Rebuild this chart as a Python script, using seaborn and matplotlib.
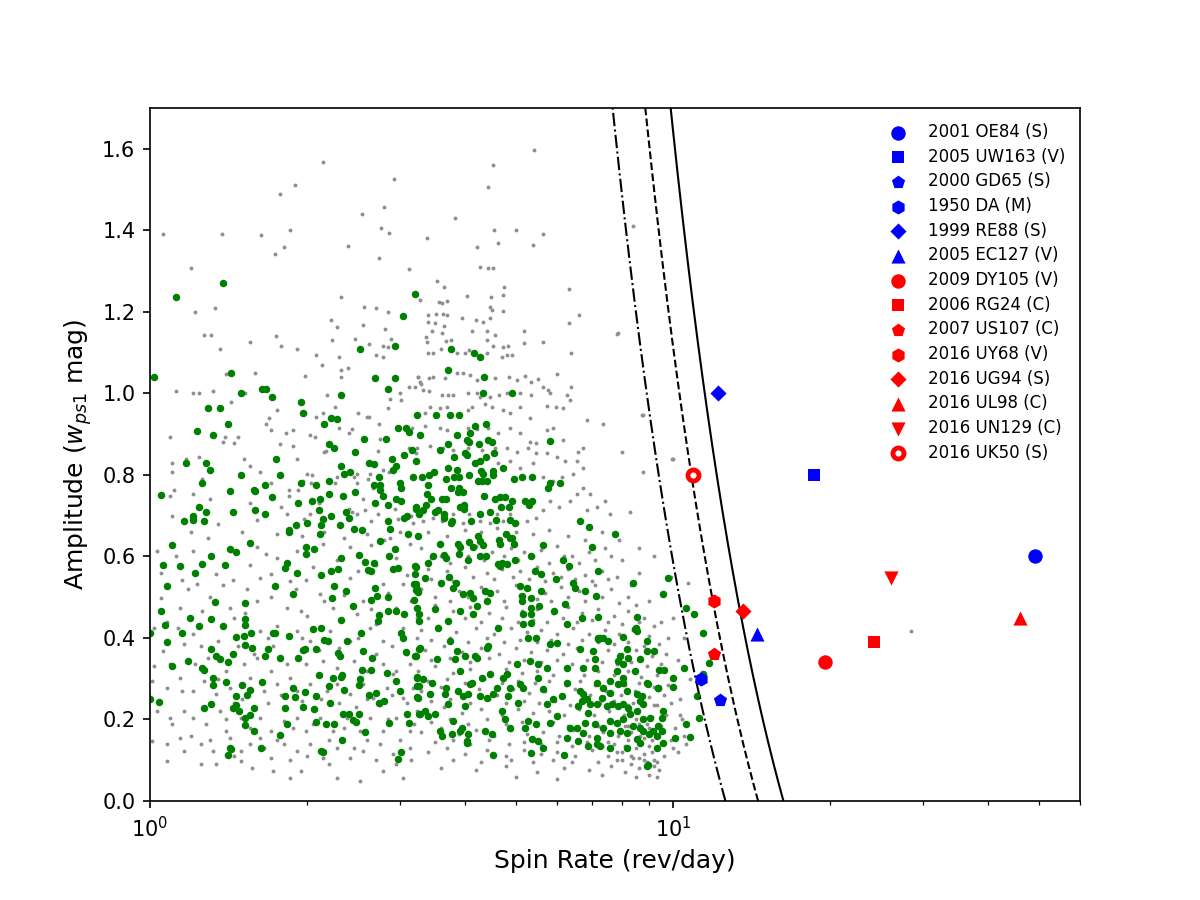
import matplotlib
matplotlib.use("Agg")
import matplotlib.pyplot as plt
import numpy as np
import pandas as pd
import seaborn as sns

# ---------------- named asteroids ----------------
named_labels = ["2001 OE84 (S)", "2005 UW163 (V)", "2000 GD65 (S)", "1950 DA (M)",
                "1999 RE88 (S)", "2005 EC127 (V)", "2009 DY105 (V)", "2006 RG24 (C)",
                "2007 US107 (C)", "2016 UY68 (V)", "2016 UG94 (S)", "2016 UL98 (C)",
                "2016 UN129 (C)", "2016 UK50 (S)"]
named_spin = [49.2, 18.6, 12.3, 11.3, 12.2, 14.5, 19.5, 24.2, 12.0, 12.0, 13.6, 46.1, 26.1, 10.9]
named_amp = [0.60, 0.80, 0.248, 0.30, 1.00, 0.41, 0.34, 0.39, 0.36, 0.49, 0.467, 0.45, 0.548, 0.80]

# spin-barrier densities (g/cm^3) for the three curves
barrier_density = [5, 4, 3]

# ---------------- green points (spin, amplitude) ----------------
green_a = [(1.38,1.27),(1.12,1.236),(1.02,1.04),(1.43,1.05),(1.49,1.00),(1.64,1.01),(1.67,1.01),(1.71,0.99),
(1.29,0.965),(1.36,0.965),(1.41,0.925),(1.23,0.907),(1.32,0.897),(1.94,0.98),(1.96,0.953),(2.15,0.926),
(2.22,0.94),(2.28,0.938),(2.32,0.995),(2.52,1.108),(2.94,1.115),(3.05,1.19),(3.21,1.243),(2.69,1.037),
(2.94,1.037),(2.85,1.01),(2.83,0.887),(2.57,0.887),(2.98,0.914),(3.08,0.914),(3.13,0.904),(3.24,0.948),
(2.20,0.875),(2.25,0.867),(2.47,0.855),(1.74,0.84),(1.17,0.83),(1.28,0.83),(1.30,0.813),(1.26,0.779),
(1.49,0.80),(1.77,0.80),(1.05,0.75),(1.42,0.76),(1.58,0.764),(1.59,0.76),(1.66,0.776),(1.71,0.745),
(1.24,0.722),(1.21,0.70),(1.21,0.69),(1.16,0.688),(1.28,0.708),(1.27,0.686),(1.44,0.708),(1.59,0.713),
(1.66,0.705),(1.94,0.779),(2.08,0.774),(2.20,0.786),(2.32,0.823),(2.35,0.803),(2.41,0.808),(2.62,0.83),
(2.68,0.826),(2.90,0.838),(2.95,0.823),(2.92,0.813),(3.06,0.85),(3.17,0.86),(3.23,0.835),(2.74,0.796),
(2.68,0.774),(2.75,0.776),(2.75,0.764),(2.79,0.749),(2.85,0.725),(3.01,0.781),(3.02,0.767),(3.18,0.796),
(2.95,0.74),(3.02,0.737),(3.23,0.717),(2.20,0.752),(2.11,0.74),(2.04,0.735),(1.92,0.732),(2.34,0.749),
(2.47,0.757),(2.69,0.73),(2.10,0.713),(2.22,0.70),(2.14,0.693),(2.37,0.71),(2.40,0.695),(2.00,0.683),
(1.90,0.678),(1.84,0.666),(2.85,0.686),(2.88,0.668),(3.06,0.695),(3.10,0.70),(3.27,0.703),(2.12,0.676),
(2.31,0.676),(2.46,0.668),(2.54,0.666)]
green_b = [(3.76,1.108),(4.16,1.098),(4.27,1.088),(3.72,1.057),(4.35,1.04),(4.33,1.002),(4.92,1.0),
(3.52,0.948),(3.74,0.948),(3.90,0.948),(4.18,0.919),(4.39,0.924),(3.28,0.899),(3.86,0.899),(4.09,0.902),
(4.04,0.885),(4.07,0.88),(4.25,0.875),(4.43,0.885),(4.50,0.88),(3.72,0.875),(3.58,0.862),(5.81,0.882),
(3.81,0.843),(4.00,0.853),(4.04,0.848),(4.18,0.83),(4.27,0.835),(4.39,0.845),(4.54,0.853),(3.72,0.816),
(3.86,0.813),(3.90,0.796),(3.81,0.794),(3.41,0.80),(3.49,0.806),(3.31,0.794),(3.40,0.776),(3.68,0.79),
(4.07,0.80),(4.29,0.81),(4.33,0.803),(4.52,0.81),(4.52,0.799),(4.23,0.784),(4.31,0.784),(4.41,0.786),
(4.73,0.818),(4.97,0.789),(5.14,0.794),(5.38,0.794),(5.81,0.781),(5.76,0.769),(6.09,0.781),(3.76,0.767),
(3.90,0.769),(3.88,0.757),(3.96,0.757),(3.39,0.752),(3.45,0.74),(3.61,0.74),(3.68,0.74),(4.35,0.749),
(4.56,0.74),(4.66,0.745),(4.77,0.745),(4.92,0.737),(4.86,0.72),(4.69,0.72),(5.21,0.735),(5.30,0.727),
(5.38,0.737),(3.23,0.72),(3.32,0.715),(3.37,0.727),(3.50,0.71),(3.55,0.715),(3.65,0.703),(3.65,0.695),
(3.78,0.688),(3.76,0.681),(3.92,0.72),(3.98,0.725),(3.98,0.717),(4.11,0.688),(4.27,0.705),(4.46,0.71),
(4.58,0.69),(4.88,0.69),(4.99,0.681),(6.64,0.688),(6.92,0.671)]
green_c = [(1.10,0.627),(1.06,0.58),(1.14,0.577),(1.08,0.528),(1.22,0.56),(1.26,0.582),(1.31,0.60),
(1.39,0.58),(1.42,0.617),(1.46,0.612),(1.55,0.634),(1.33,0.489),(1.05,0.467),(1.07,0.432),(1.08,0.391),
(1.10,0.332),(1.0,0.413),(1.0,0.25),(1.04,0.243),(1.19,0.45),(1.24,0.43),(1.15,0.413),(1.31,0.447),
(1.38,0.43),(1.18,0.344),(1.26,0.327),(1.27,0.322),(1.31,0.373),(1.34,0.356),(1.36,0.349),(1.41,0.342),
(1.44,0.361),(1.32,0.302),(1.32,0.285),(1.31,0.238),(1.27,0.228),(1.40,0.292),(1.46,0.258),(1.44,0.228),
(1.46,0.236),(1.48,0.221),(1.52,0.204),(1.52,0.187),(1.50,0.285),(1.53,0.26),(1.55,0.273),(1.58,0.228),
(1.55,0.211),(1.58,0.172),(1.42,0.13),(1.43,0.128),(1.41,0.113),(1.52,0.486),(1.52,0.447),(1.52,0.432),
(1.52,0.383),(1.46,0.403),(1.51,0.405),(1.56,0.413),(1.57,0.376),(1.64,0.292),(1.63,0.13),(1.66,0.356),
(1.68,0.373),(1.72,0.413),(1.73,0.413),(1.73,0.528),(1.77,0.351),(1.84,0.405),(1.92,0.351),(1.88,0.509),
(1.81,0.572),(1.83,0.585),(1.91,0.56),(1.77,0.162),(1.83,0.189),(1.81,0.228),(1.81,0.258),(1.89,0.255),
(1.88,0.278),(1.96,0.231),(1.98,0.268),(2.06,0.226),(2.08,0.258),(2.08,0.194),(2.12,0.123),(2.14,0.12),
(1.96,0.371),(1.98,0.373),(2.05,0.423),(2.08,0.373),(2.12,0.425),(2.15,0.396),(2.19,0.393),(2.10,0.31),
(2.21,0.241),(2.24,0.302),(2.20,0.283),(2.33,0.31),(2.32,0.305),(2.35,0.273),(2.34,0.214),(2.17,0.189),
(2.25,0.189),(2.33,0.15),(2.12,0.555),(2.22,0.565),(2.29,0.57),(2.32,0.595),(2.23,0.499),(2.25,0.528),
(2.37,0.516),(2.44,0.479),(2.11,0.656),(1.99,0.622),(2.06,0.619),(1.99,0.607),(1.84,0.661),(2.32,0.445),
(2.38,0.393),(2.29,0.364),(2.31,0.356),(2.40,0.214),(2.44,0.199),(2.48,0.194),(2.51,0.214),(2.54,0.322),
(2.52,0.30),(2.51,0.285),(2.58,0.17),(2.53,0.413),(2.55,0.369),(2.66,0.351),(2.65,0.322),(2.62,0.26),
(2.70,0.265),(2.74,0.241),(2.80,0.246),(2.86,0.191),(3.02,0.12),(2.98,0.103),(3.13,0.191),(3.10,0.214),
(2.51,0.604),(2.58,0.587),(2.61,0.567),(2.65,0.565),(2.68,0.585),(2.75,0.639),(2.86,0.602),(2.94,0.619),
(2.91,0.57),(2.98,0.572),(3.11,0.654),(3.23,0.575),(3.23,0.533),(3.26,0.513),(3.23,0.518),(2.69,0.523),
(2.72,0.504),(2.65,0.494),(2.74,0.457),(2.73,0.442),(2.85,0.467),(2.95,0.467),(3.06,0.459),(2.85,0.501),
(3.02,0.413),(3.05,0.401),(3.09,0.366),(3.23,0.356),(3.27,0.373),(2.84,0.314),(2.95,0.295),(3.00,0.27),
(3.24,0.305),(3.27,0.283),(3.24,0.255),(3.27,0.214)]
green_d = [(3.25,0.649),(3.59,0.631),(3.88,0.631),(3.92,0.622),(4.07,0.636),(4.15,0.622),(4.27,0.639),
(4.33,0.629),(4.23,0.651),(4.65,0.641),(4.66,0.631),(4.79,0.656),(4.92,0.644),(4.97,0.631),(4.88,0.646),
(5.63,0.629),(7.00,0.624),(7.76,0.654),(3.40,0.585),(3.47,0.60),(3.65,0.604),(3.68,0.597),(3.90,0.607),
(4.05,0.59),(4.27,0.602),(4.39,0.602),(4.62,0.582),(4.70,0.585),(4.81,0.582),(4.99,0.592),(5.36,0.602),
(5.44,0.565),(5.58,0.558),(6.17,0.592),(6.33,0.577),(7.19,0.563),(3.21,0.577),(3.21,0.558),(3.20,0.533),
(3.24,0.521),(3.20,0.494),(3.24,0.474),(3.27,0.459),(3.27,0.442),(3.36,0.548),(3.60,0.536),(3.73,0.55),
(3.84,0.536),(3.79,0.523),(3.96,0.509),(4.09,0.511),(4.15,0.499),(4.37,0.516),(4.47,0.511),(4.41,0.491),
(4.66,0.577),(5.10,0.528),(5.25,0.523),(5.14,0.504),(5.14,0.491),(5.36,0.499),(5.34,0.474),(5.36,0.459),
(5.54,0.479),(5.60,0.516),(5.17,0.435),(5.34,0.437),(5.97,0.545),(6.43,0.536),(6.78,0.516),(7.12,0.504),
(6.27,0.435),(6.22,0.484),(5.92,0.467),(6.70,0.45),(7.19,0.452),(6.49,0.523),(8.39,0.536),(8.55,0.452),
(8.50,0.425),(8.55,0.418),(8.04,0.403),(7.35,0.40),(7.19,0.40),(9.57,0.509),(9.78,0.548),(10.58,0.474),
(10.96,0.459),(10.5,0.327),(11.1,0.258),(11.2,0.204),(10.58,0.189),(10.8,0.157),(9.99,0.302),(9.99,0.28),
(9.36,0.278),(9.6,0.322),(10.1,0.155),(8.94,0.088),(11.4,0.413),(11.7,0.339),(11.4,0.312)]
green_e = [(3.21,0.356),(3.28,0.376),(3.24,0.302),(3.32,0.30),(3.24,0.283),(3.25,0.253),(3.36,0.221),
(3.28,0.214),(3.40,0.209),(3.43,0.263),(3.46,0.29),(3.54,0.349),(3.51,0.214),(3.59,0.172),(3.62,0.16),
(3.72,0.238),(3.80,0.197),(3.67,0.263),(3.68,0.278),(3.74,0.393),(3.86,0.369),(3.83,0.349),(4.00,0.356),
(3.92,0.319),(3.88,0.27),(3.96,0.258),(4.00,0.233),(4.05,0.263),(4.09,0.287),(4.13,0.29),(4.05,0.165),
(3.95,0.179),(3.92,0.172),(3.78,0.165),(4.04,0.147),(4.27,0.258),(4.31,0.302),(4.41,0.253),(4.47,0.312),
(4.52,0.263),(4.37,0.172),(4.50,0.165),(4.60,0.278),(4.73,0.302),(4.70,0.221),(4.88,0.278),(4.84,0.258),
(4.77,0.201),(4.88,0.179),(5.03,0.337),(5.10,0.287),(5.06,0.241),(5.17,0.278),(3.51,0.472),(3.55,0.425),
(3.72,0.442),(3.92,0.467),(4.15,0.459),(4.22,0.479),(4.41,0.376),(4.43,0.381),(4.62,0.425),(4.22,0.351),
(4.18,0.356),(4.81,0.312),(5.17,0.459),(5.28,0.40),(5.48,0.40),(5.32,0.344),(5.51,0.337),(5.74,0.327),
(5.81,0.386),(5.99,0.388),(6.27,0.327),(6.64,0.373),(7.03,0.369),(7.19,0.398),(7.09,0.349),(6.74,0.327),
(5.51,0.302),(5.63,0.275),(5.74,0.238),(5.89,0.25),(6.13,0.258),(6.27,0.29),(5.99,0.209),(5.81,0.191),
(5.48,0.189),(5.38,0.152),(5.51,0.147),(5.63,0.13),(5.36,0.118),(5.21,0.179),(5.28,0.197),(6.18,0.113),
(4.52,0.113),(4.04,0.143)]
green_f = [(6.64,0.27),(6.74,0.263),(6.70,0.246),(6.85,0.25),(6.93,0.238),(6.58,0.233),(6.88,0.216),
(7.16,0.238),(7.32,0.253),(7.49,0.233),(7.65,0.238),(7.86,0.233),(8.03,0.238),(8.21,0.228),(8.28,0.214),
(8.03,0.201),(7.82,0.191),(7.59,0.197),(7.35,0.179),(7.09,0.189),(6.78,0.191),(6.55,0.179),(6.74,0.167),
(7.16,0.155),(7.24,0.135),(6.88,0.135),(7.59,0.167),(7.92,0.172),(8.17,0.167),(8.39,0.184),(8.66,0.179),
(8.78,0.172),(8.98,0.165),(9.17,0.172),(9.32,0.16),(9.52,0.172),(9.57,0.143),(9.32,0.13),(8.55,0.152),
(8.66,0.143),(8.17,0.13),(8.90,0.086),(8.78,0.201),(9.05,0.204),(9.36,0.184),(9.52,0.204),(9.57,0.221),
(8.66,0.246),(8.78,0.238),(8.55,0.221),(8.17,0.27),(7.86,0.287),(7.59,0.265),(7.35,0.278),(7.16,0.29),
(7.09,0.327),(7.59,0.295),(7.82,0.319),(8.03,0.337),(8.21,0.351),(8.47,0.319),(8.03,0.302),(8.90,0.29),
(8.94,0.287),(9.36,0.278),(8.66,0.349),(8.90,0.393),(9.20,0.369),(8.90,0.369),(8.17,0.373),(7.92,0.356),
(7.52,0.393),(7.24,0.40),(7.86,0.344),(9.40,0.322),(8.74,0.258),(8.47,0.423),(8.03,0.29),(8.55,0.263),
(7.59,0.13),(7.16,0.14),(6.58,0.147),(6.27,0.155),(6.36,0.179)]

# ---------------- grey points (spin, amplitude) ----------------
grey_a = [(5.42,1.597),(4.53,1.56),(4.43,1.506),(3.83,1.43),(3.39,1.38),(4.55,1.40),(5.01,1.40),(5.63,1.39),
(4.62,1.37),(4.22,1.36),(5.40,1.364),(4.27,1.31),(4.43,1.307),(4.52,1.307),(2.14,1.568),(2.93,1.526),
(1.77,1.49),(1.89,1.51),(1.06,1.39),(1.37,1.39),(1.63,1.388),(1.85,1.40),(1.73,1.342),(1.80,1.359),
(2.39,1.361),(2.54,1.44),(2.80,1.457),(2.76,1.405),(2.86,1.393),(2.74,1.332),(1.20,1.307),(3.13,1.305),
(8.4,1.41),(7.8,1.145),(8.73,0.948),(9.95,0.84),(10.7,0.536),(28.5,0.418)]
grey_b = [(1.22,1.20),(1.33,1.21),(1.27,1.143),(1.31,1.143),(1.36,1.11),(1.55,1.125),(1.74,1.14),(1.78,1.115),
(1.91,1.108),(2.08,1.093),(2.13,1.069),(2.23,1.13),(2.28,1.162),(2.22,1.179),(2.32,1.236),(2.47,1.133),
(2.55,1.167),(2.57,1.211),(2.71,1.209),(2.85,1.199),(2.81,1.157),(2.62,1.12),(2.79,1.115),(2.30,1.09),
(2.32,1.057),(2.32,1.04),(2.39,1.061),(1.98,1.042),(1.59,1.049),(1.12,1.005),(1.21,1.002),(1.24,1.0),
(1.32,1.005),(1.43,0.978),(1.40,1.047),(1.52,1.0),(1.09,0.894),(1.10,0.83),(1.10,0.808),(1.11,0.762),
(1.09,0.747),(1.21,0.754),(1.24,0.845),(1.26,0.791),(1.17,0.84),(1.38,0.88),(1.45,0.877),(1.39,0.894),
(1.47,0.892),(1.51,0.838),(1.62,0.808),(1.55,0.823),(1.69,0.939),(1.67,0.924),(1.70,0.909),(1.75,0.958),
(1.82,0.902),(1.88,0.909),(1.77,0.875),(1.88,0.872),(1.91,0.84),(1.98,0.951),(2.02,0.899),(2.07,0.894),
(2.14,0.951),(2.08,0.941),(2.18,0.995),(2.26,0.966),(2.40,0.902),(2.43,0.912),(2.30,0.916),(2.17,0.858),
(2.15,0.855),(2.50,0.953),(2.60,0.943),(2.62,0.943),(2.74,0.926),(2.75,0.887),(2.73,0.858),(2.85,0.963),
(2.88,0.985),(3.00,1.0),(3.02,0.983),(3.13,1.015),(3.25,1.039),(3.30,1.022),(2.71,1.093),(2.79,1.088),
(2.89,1.133),(2.85,1.113),(3.28,1.228),(3.13,0.867),(3.23,0.853),(2.45,0.794),(2.49,0.803),(2.49,0.781),
(2.63,0.803),(2.61,0.791),(2.67,0.769),(2.79,0.811),(2.87,0.808),(2.26,0.779),(2.28,0.794),(2.00,0.803),
(2.04,0.799),(1.96,0.786),(2.03,0.781),(1.84,0.762),(1.92,0.762),(1.84,0.749),(1.78,0.72),(1.83,0.705),
(1.97,0.693),(2.02,0.705),(2.40,0.717),(2.43,0.708),(2.49,0.705),(2.58,0.713),(2.64,0.688),(2.73,0.705),
(2.94,0.717),(2.98,0.693)]
grey_c = [(3.54,1.275),(3.65,1.26),(4.04,1.238),(4.48,1.236),(4.73,1.241),(4.75,1.26),(6.33,1.255),
(3.57,1.224),(3.70,1.226),(3.61,1.221),(4.47,1.211),(4.50,1.204),(4.73,1.201),(3.40,1.192),(3.52,1.194),
(3.64,1.194),(3.70,1.192),(3.40,1.174),(3.51,1.172),(3.65,1.165),(3.95,1.184),(4.13,1.152),(4.20,1.179),
(4.33,1.174),(4.41,1.152),(4.47,1.184),(3.37,1.138),(3.39,1.125),(3.46,1.152),(3.62,1.147),(3.68,1.128),
(3.76,1.13),(4.41,1.13),(4.56,1.143),(4.52,1.115),(4.73,1.113),(4.84,1.115),(5.19,1.152),(5.19,1.123),
(5.63,1.125),(6.38,1.10),(6.33,1.172),(6.61,1.192),(7.86,1.147),(3.40,1.098),(3.47,1.098),(3.60,1.108),
(3.86,1.098),(4.00,1.10),(4.07,1.106),(4.41,1.10),(4.70,1.088),(4.81,1.093),(4.92,1.093),(3.25,1.039),
(3.28,1.027),(3.41,1.037),(3.47,1.039),(3.67,1.037),(3.86,1.049),(3.96,1.049),(4.09,1.044),(4.22,1.032),
(4.56,1.037),(4.86,1.039),(5.03,1.032),(5.21,1.042),(5.36,1.027),(5.52,1.035),(5.99,1.047),(3.21,1.015),
(3.32,1.007),(3.41,1.005),(3.61,0.995),(3.72,0.995),(3.80,0.995),(4.05,1.002),(4.22,1.002),(4.27,0.99),
(4.47,0.99),(4.64,0.995),(4.81,1.002),(5.10,1.0),(5.36,0.995),(5.63,1.015),(5.76,1.007),(5.81,1.0),
(6.27,0.995),(6.38,1.015),(3.36,0.953),(3.43,0.966),(3.59,0.963),(3.70,0.966),(4.05,0.958),(4.13,0.966),
(4.37,0.975),(4.50,0.966),(4.73,0.958),(4.88,0.953),(5.10,0.966),(5.32,0.939),(5.74,0.968),(5.97,0.966),
(6.15,0.963),(6.36,0.983),(6.85,0.934),(7.35,0.926),(8.78,0.946),(7.99,0.855),(3.17,0.916),(3.36,0.921),
(3.59,0.916),(3.70,0.909),(4.05,0.916),(4.22,0.912),(4.43,0.914),(4.62,0.902),(4.88,0.916),(5.10,0.902),
(5.32,0.88),(5.48,0.877),(5.74,0.909),(5.89,0.916),(6.15,0.885),(6.58,0.855),(6.74,0.865),(3.24,0.867),
(3.43,0.872),(3.64,0.867),(3.80,0.86),(4.05,0.867),(4.31,0.86),(4.56,0.865),(4.81,0.867),(5.03,0.855),
(5.28,0.867),(5.48,0.853),(5.74,0.853),(5.99,0.843),(6.22,0.835),(6.55,0.835),(6.74,0.818),(6.43,0.803),
(6.13,0.794),(5.89,0.786),(5.63,0.794),(5.40,0.828),(5.10,0.818),(4.88,0.835),(4.62,0.828),(6.74,0.769),
(6.93,0.754),(7.16,0.72),(7.42,0.737),(7.59,0.705),(6.85,0.713),(6.55,0.754),(6.36,0.737),(6.05,0.72),
(5.81,0.737),(5.63,0.713),(5.48,0.695),(5.25,0.688),(5.03,0.681),(4.88,0.705),(4.73,0.688),(4.60,0.705),
(4.47,0.681),(4.27,0.688),(4.07,0.705),(3.96,0.681),(3.80,0.705),(3.62,0.688),(3.47,0.695),(3.32,0.688),
(3.24,0.705),(3.18,0.681),(8.28,0.708),(8.78,0.806),(9.99,0.84)]
grey_d = [(1.03,0.614),(1.21,0.614),(1.29,0.646),(1.43,0.614),(1.60,0.622),(1.67,0.607),(1.91,0.614),
(2.14,0.631),(2.41,0.622),(2.64,0.627),(2.88,0.646),(3.14,0.631),(1.15,0.541),(1.23,0.533),(1.34,0.558),
(1.44,0.541),(1.53,0.521),(1.62,0.548),(1.70,0.558),(1.99,0.541),(2.11,0.509),(2.41,0.548),(2.79,0.533),
(3.05,0.533),(1.05,0.499),(1.14,0.474),(1.26,0.467),(1.42,0.474),(1.60,0.491),(1.83,0.474),(1.94,0.467),
(2.24,0.474),(2.49,0.459),(2.71,0.435),(2.96,0.474),(3.24,0.45),(1.02,0.425),(1.13,0.425),(1.21,0.41),
(1.35,0.393),(1.47,0.381),(1.62,0.418),(1.68,0.40),(1.75,0.43),(1.91,0.418),(2.02,0.393),(2.21,0.418),
(2.41,0.393),(2.63,0.425),(2.79,0.393),(3.05,0.425),(3.24,0.40),(1.06,0.369),(1.09,0.337),(1.16,0.386),
(1.22,0.337),(1.29,0.351),(1.40,0.319),(1.51,0.337),(1.60,0.351),(1.70,0.319),(1.83,0.337),(1.99,0.337),
(2.14,0.344),(2.28,0.327),(2.45,0.344),(2.60,0.319),(2.79,0.337),(2.96,0.319),(3.14,0.337),(1.01,0.295),
(1.08,0.278),(1.14,0.302),(1.21,0.27),(1.27,0.295),(1.34,0.263),(1.42,0.278),(1.55,0.302),(1.65,0.27),
(1.75,0.287),(1.85,0.302),(1.91,0.27),(2.02,0.287),(2.18,0.27),(2.28,0.287),(2.41,0.263),(2.55,0.287),
(2.67,0.253),(2.84,0.278),(2.92,0.312),(3.05,0.253),(3.19,0.278),(1.03,0.221),(1.09,0.204),(1.16,0.221),
(1.21,0.204),(1.28,0.189),(1.36,0.221),(1.40,0.172),(1.49,0.204),(1.62,0.204),(1.70,0.172),(1.80,0.197),
(1.91,0.204),(1.99,0.172),(2.11,0.204),(2.24,0.172),(2.38,0.204),(2.52,0.172),(2.63,0.204),(2.79,0.172),
(2.96,0.204),(3.14,0.172),(3.24,0.221),(1.01,0.147),(1.08,0.14),(1.14,0.155),(1.16,0.123),(1.25,0.14),
(1.32,0.123),(1.42,0.155),(1.49,0.123),(1.55,0.14),(1.62,0.155),(1.70,0.106),(1.80,0.14),(1.91,0.123),
(2.02,0.14),(2.14,0.106),(2.28,0.13),(2.41,0.106),(2.55,0.123),(2.75,0.14),(2.92,0.115),(3.14,0.13),
(1.08,0.098),(1.57,0.081),(1.72,0.074),(1.85,0.057),(1.94,0.074),(2.28,0.057),(2.52,0.049),(2.79,0.074),
(3.05,0.057),(1.49,0.098),(1.34,0.091)]
grey_e = [(3.3,0.62),(3.6,0.60),(3.9,0.615),(4.2,0.625),(4.5,0.61),(4.9,0.62),(5.2,0.61),(5.6,0.615),
(6.0,0.625),(6.4,0.60),(6.9,0.61),(7.4,0.62),(8.0,0.59),(3.4,0.57),(3.7,0.565),(4.0,0.575),(4.4,0.56),
(4.7,0.57),(5.1,0.565),(5.5,0.575),(5.9,0.56),(6.3,0.57),(6.8,0.555),(7.3,0.565),(7.8,0.55),(8.6,0.56),
(3.3,0.52),(3.6,0.53),(3.9,0.515),(4.3,0.525),(4.6,0.515),(5.0,0.53),(5.3,0.52),(5.7,0.51),(6.1,0.525),
(6.6,0.515),(7.1,0.53),(7.6,0.52),(8.2,0.50),(9.0,0.49),(3.25,0.47),(3.5,0.48),(3.8,0.465),(4.1,0.475),
(4.45,0.46),(4.8,0.475),(5.15,0.465),(5.5,0.47),(5.9,0.46),(6.3,0.475),(6.7,0.46),(7.2,0.47),(7.7,0.455),
(8.2,0.465),(8.8,0.45),(9.5,0.44),(3.3,0.42),(3.55,0.43),(3.85,0.415),(4.2,0.425),(4.55,0.41),(4.9,0.425),
(5.25,0.415),(5.6,0.42),(6.0,0.41),(6.45,0.425),(6.9,0.41),(7.4,0.42),(7.9,0.41),(8.4,0.42),(9.0,0.405),
(9.8,0.40),(3.35,0.37),(3.65,0.38),(3.95,0.365),(4.3,0.375),(4.65,0.36),(5.0,0.375),(5.35,0.365),
(5.75,0.37),(6.15,0.36),(6.55,0.375),(7.0,0.365),(7.5,0.37),(8.0,0.36),(8.5,0.37),(9.1,0.355),(9.7,0.36),
(10.2,0.345),(3.25,0.32),(3.5,0.33),(3.8,0.315),(4.1,0.325),(4.45,0.31),(4.8,0.325),(5.15,0.315),
(5.5,0.32),(5.9,0.31),(6.3,0.325),(6.75,0.31),(7.2,0.32),(7.7,0.31),(8.2,0.32),(8.7,0.305),(9.3,0.31),
(10.0,0.30),(3.3,0.27),(3.6,0.28),(3.9,0.265),(4.25,0.275),(4.6,0.26),(4.95,0.275),(5.3,0.265),(5.7,0.27),
(6.1,0.26),(6.5,0.275),(6.95,0.26),(7.45,0.27),(7.95,0.26),(8.45,0.27),(9.0,0.255),(9.6,0.26),(10.3,0.25),
(3.35,0.22),(3.65,0.23),(3.95,0.215),(4.3,0.225),(4.7,0.21),(5.05,0.225),(5.4,0.215),(5.8,0.22),(6.2,0.21),
(6.6,0.225),(7.05,0.21),(7.55,0.22),(8.05,0.21),(8.55,0.22),(9.1,0.205),(9.7,0.21),(10.4,0.20),(3.3,0.17),
(3.6,0.18),(3.9,0.165),(4.2,0.175),(4.55,0.16),(4.9,0.175),(5.25,0.165),(5.65,0.17),(6.05,0.16),
(6.45,0.175),(6.9,0.16),(7.35,0.17),(7.85,0.16),(8.3,0.17),(8.8,0.155),(9.3,0.165),(9.9,0.15),(10.5,0.16),
(3.4,0.12),(3.7,0.13),(4.0,0.115),(4.4,0.125),(4.8,0.11),(5.2,0.125),(5.6,0.115),(6.0,0.12),(6.5,0.11),
(7.0,0.125),(7.5,0.11),(8.0,0.12),(8.4,0.105),(8.8,0.115),(9.2,0.10),(9.6,0.11),(10.2,0.12),(3.6,0.08),
(4.2,0.075),(4.8,0.085),(5.5,0.07),(6.2,0.08),(6.9,0.075),(7.6,0.085),(8.1,0.07),(8.6,0.08),(9.0,0.065),
(9.4,0.075),(8.3,0.09),(8.9,0.095),(9.2,0.085),(7.7,0.14),(8.1,0.135),(8.5,0.13),(8.7,0.14),(9.0,0.135),
(9.3,0.13),(8.2,0.185),(8.6,0.19),(9.0,0.18),(9.4,0.19),(7.8,0.23),(8.4,0.24),(9.2,0.235),(7.5,0.145),
(8.0,0.1),(9.1,0.12),(8.6,0.105),(10.5,0.40),(10.0,0.45),(10.8,0.30),(9.9,0.55),(10.3,0.21),(10.6,0.14)]
grey_f = [(1.55,0.58),(1.75,0.595),(1.85,0.54),(2.05,0.575),(2.28,0.59),(2.5,0.565),(2.7,0.58),(2.95,0.595),
(3.1,0.555),(1.52,0.46),(1.7,0.5),(1.9,0.52),(2.0,0.455),(2.15,0.49),(2.35,0.505),(2.55,0.49),(2.65,0.47),
(2.85,0.51),(3.15,0.49),(1.58,0.36),(1.72,0.38),(1.95,0.4),(2.1,0.37),(2.3,0.375),(2.5,0.4),(2.7,0.36),
(2.9,0.38),(3.1,0.36),(1.5,0.25),(1.68,0.24),(1.78,0.26),(1.95,0.245),(2.12,0.25),(2.3,0.24),(2.48,0.23),
(2.6,0.25),(2.75,0.235),(2.9,0.26),(3.1,0.24),(1.55,0.18),(1.75,0.15),(1.88,0.18),(2.05,0.19),(2.2,0.15),
(2.35,0.18),(2.6,0.15),(2.85,0.2),(3.0,0.15),(3.2,0.19),(1.65,0.13),(1.85,0.1),(2.0,0.11),(2.2,0.09),
(2.45,0.13),(2.7,0.1),(2.95,0.09),(3.15,0.1),(1.05,0.56),(1.12,0.6),(1.18,0.52),(1.3,0.5),(1.38,0.53),
(1.45,0.45),(1.08,0.44),(1.25,0.38),(1.35,0.3),(1.45,0.24),(1.1,0.19),(1.2,0.16),(1.3,0.15),(1.4,0.2),
(1.02,0.33),(1.15,0.27),(1.25,0.09),(1.45,0.11)]
grey_g = [(3.45,0.595),(3.75,0.585),(4.05,0.6),(4.35,0.59),(4.75,0.6),(5.05,0.59),(5.4,0.6),(5.8,0.585),
(6.2,0.6),(6.6,0.585),(7.1,0.59),(7.6,0.6),(3.45,0.545),(3.8,0.54),(4.15,0.55),(4.55,0.545),(4.95,0.55),
(5.3,0.545),(5.7,0.54),(6.1,0.55),(6.5,0.545),(7.0,0.54),(7.5,0.545),(8.3,0.53),(3.5,0.5),(3.75,0.49),
(4.05,0.5),(4.4,0.495),(4.75,0.49),(5.1,0.505),(5.5,0.495),(5.85,0.49),(6.3,0.5),(6.8,0.49),(7.3,0.5),
(7.9,0.485),(8.5,0.48),(3.4,0.45),(3.7,0.445),(4.0,0.45),(4.3,0.44),(4.7,0.45),(5.05,0.44),(5.4,0.445),
(5.75,0.44),(6.15,0.45),(6.55,0.44),(7.0,0.445),(7.5,0.44),(8.0,0.435),(8.6,0.44),(9.2,0.43),(3.45,0.395),
(3.75,0.4),(4.05,0.39),(4.4,0.4),(4.75,0.39),(5.1,0.395),(5.5,0.39),(5.85,0.395),(6.3,0.385),(6.7,0.395),
(7.2,0.39),(7.7,0.385),(8.2,0.39),(8.8,0.38),(9.4,0.385),(3.45,0.345),(3.75,0.35),(4.1,0.34),(4.45,0.35),
(4.85,0.34),(5.2,0.345),(5.6,0.34),(6.0,0.345),(6.4,0.335),(6.85,0.345),(7.3,0.34),(7.8,0.335),(8.3,0.34),
(8.9,0.33),(9.5,0.335),(3.4,0.295),(3.7,0.3),(4.0,0.29),(4.35,0.3),(4.7,0.29),(5.05,0.295),(5.45,0.29),
(5.8,0.295),(6.25,0.285),(6.65,0.295),(7.1,0.285),(7.6,0.295),(8.1,0.285),(8.6,0.29),(9.2,0.28),(9.8,0.285),
(3.45,0.245),(3.75,0.25),(4.1,0.24),(4.45,0.25),(4.8,0.24),(5.2,0.245),(5.55,0.24),(5.95,0.245),
(6.35,0.235),(6.8,0.245),(7.25,0.24),(7.7,0.245),(8.2,0.235),(8.7,0.245),(9.3,0.235),(9.9,0.24),
(3.45,0.195),(3.75,0.2),(4.05,0.19),(4.4,0.2),(4.8,0.19),(5.15,0.195),(5.5,0.19),(5.9,0.195),(6.3,0.185),
(6.75,0.195),(7.2,0.185),(7.65,0.195),(8.1,0.185),(8.5,0.2),(8.9,0.19),(9.5,0.185),(10.1,0.18),(3.5,0.145),
(3.8,0.15),(4.1,0.14),(4.45,0.15),(4.85,0.14),(5.2,0.145),(5.6,0.14),(6.0,0.145),(6.4,0.135),(6.85,0.145),
(7.3,0.135),(7.8,0.12),(8.2,0.15),(8.65,0.16),(9.1,0.15),(9.5,0.14),(10.0,0.13),(3.8,0.1),(4.3,0.095),
(4.9,0.1),(5.4,0.095),(5.9,0.1),(6.4,0.095),(7.2,0.095),(7.8,0.1),(8.3,0.11),(8.8,0.1),(9.3,0.095),
(7.3,0.065),(8.5,0.06),(9.3,0.06),(5.0,0.06),(6.0,0.055),(3.4,0.66),(3.7,0.65),(4.0,0.665),(4.3,0.66),
(4.6,0.67),(5.0,0.66),(5.4,0.655),(5.8,0.665),(6.3,0.65),(6.8,0.64),(7.3,0.66),(7.9,0.64),(8.6,0.62),
(9.2,0.6),(1.1,0.7),(1.2,0.66),(1.35,0.68),(1.5,0.66),(1.6,0.69),(1.75,0.655),(1.95,0.65),(2.15,0.66),
(2.35,0.645),(2.6,0.655),(2.8,0.64),(3.0,0.66),(3.15,0.7),(1.3,0.74),(1.55,0.73),(1.7,0.78),(2.1,0.73),
(2.55,0.74)]

# ---------------- build frames ----------------
green_df = pd.DataFrame(green_a + green_b + green_c + green_d + green_e + green_f, columns=["spin", "amp"])
grey_df = pd.DataFrame(grey_a + grey_b + grey_c + grey_d + grey_e + grey_f + grey_g,
                       columns=["spin", "amp"])

# styles for the named objects
named_colors = ["blue"] * 6 + ["red"] * 8
named_markers = ["o", "s", "p", "h", "D", "^", "o", "s", "p", "h", "D", "^", "v", "o"]
named_sizes = [48, 34, 44, 46, 30, 46, 48, 34, 44, 46, 30, 46, 46, 28]

fig, ax = plt.subplots(figsize=(8, 6), dpi=150)

sns.scatterplot(data=grey_df, x="spin", y="amp", color="#8f8f8f", s=3.5, linewidth=0,
                ax=ax, zorder=1, legend=False)
sns.scatterplot(data=green_df, x="spin", y="amp", color="green", s=13, linewidth=0,
                ax=ax, zorder=2, legend=False)

# spin-barrier curves
amp_grid = np.linspace(0, 1.7, 200)
for rho, ls in zip(barrier_density, ["-", "--", "-."]):
    f = 24.0 / 3.3 * np.sqrt(rho / (1.0 + amp_grid))
    ax.plot(f, amp_grid, color="black", linestyle=ls, linewidth=1.0, zorder=3)

for i, lbl in enumerate(named_labels):
    if lbl == "2016 UK50 (S)":
        sns.scatterplot(x=[named_spin[i]], y=[named_amp[i]], marker="o", s=named_sizes[i],
                        color="white", edgecolor="red", linewidth=2.3, label=lbl, ax=ax, zorder=5)
    else:
        sns.scatterplot(x=[named_spin[i]], y=[named_amp[i]], marker=named_markers[i],
                        s=named_sizes[i], color=named_colors[i], linewidth=0, label=lbl,
                        ax=ax, zorder=5)

ax.set_xscale("log")
ax.set_xlim(1, 60)
ax.set_ylim(0, 1.7)
ax.set_xlabel("Spin Rate (rev/day)", fontsize=12)
ax.set_ylabel("Amplitude ($w_{ps1}$ mag)", fontsize=12)
ax.tick_params(labelsize=10)
ax.legend(loc="upper right", frameon=False, fontsize=8, labelspacing=0.4, scatterpoints=1)

fig.savefig("out.png", dpi=150)
